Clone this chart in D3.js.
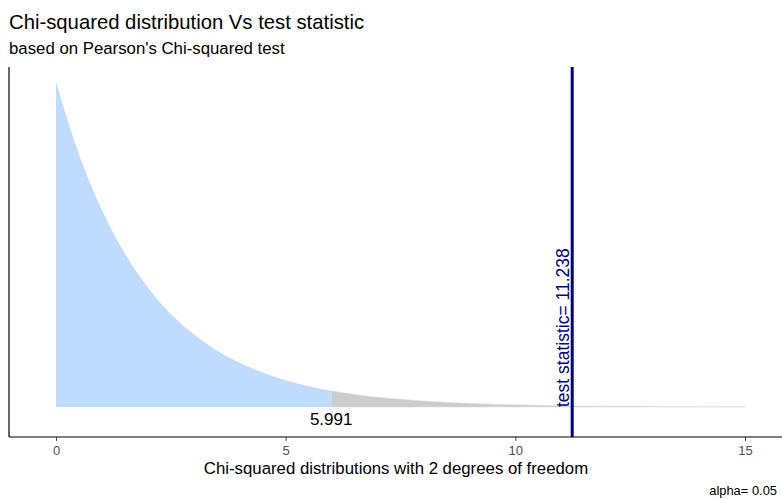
<!DOCTYPE html>
<html>
<head>
<meta charset="utf-8">
<script src="https://cdn.jsdelivr.net/npm/d3@7"></script>
<style>
  body { margin: 0; background: #fff; }
  text { font-family: "Liberation Sans", Arial, sans-serif; }
</style>
</head>
<body>
<div id="chart-area"></div>
<script>
// chi-squared density (df = 2)
let xValues = [0, 0.5, 1, 1.5, 2, 2.5, 3, 3.5, 4, 4.5, 5, 5.5, 5.991,
    6.5, 7, 7.5, 8, 8.5, 9, 9.5, 10, 10.5, 11, 11.5, 12, 12.5, 13, 13.5, 14, 14.5, 15];
let densityValues = [0.5, 0.389, 0.303, 0.236, 0.184, 0.143, 0.112, 0.087, 0.068, 0.053, 0.041, 0.032, 0.025,
    0.0194, 0.0151, 0.0118, 0.0092, 0.0071, 0.0056, 0.0043, 0.0034, 0.0026, 0.002, 0.0016, 0.0012, 0.001, 0.0008, 0.0006, 0.0005, 0.0004, 0.0003];
let xTicks = [0, 5, 10, 15];
let criticalValue = 5.991;
let testStatistic = 11.238;

let points = xValues.map(function (x, i) {
    return {x: x, y: densityValues[i]};
});

let width = 782,
    height = 499;
let margin = {top: 67, right: 0, left: 9, bottom: 62};

let svg = d3.select("#chart-area")
    .append("svg")
    .attr("width", width)
    .attr("height", height);

let x = d3.scaleLinear()
    .domain([0, 15])
    .range([56, 745]);

let y = d3.scaleLinear()
    .domain([0, 0.5])
    .range([407, 82]);

let area = d3.area()
    .x(function (d) { return x(d.x); })
    .y0(y(0))
    .y1(function (d) { return y(d.y); })
    .curve(d3.curveMonotoneX);

// acceptance region
svg.append("path")
    .datum(points.filter(function (d) { return d.x <= criticalValue; }))
    .attr("fill", "#bfdbfe")
    .attr("d", area);

// rejection region
svg.append("path")
    .datum(points.filter(function (d) { return d.x >= criticalValue; }))
    .attr("fill", "#cccccc")
    .attr("stroke", "#dddddd")
    .attr("stroke-width", 0.6)
    .attr("d", area);

// critical value label
svg.append("text")
    .attr("x", x(criticalValue))
    .attr("y", 425)
    .attr("text-anchor", "middle")
    .attr("font-size", 17)
    .attr("fill", "#000")
    .text(criticalValue.toFixed(3));

// test statistic line
svg.append("line")
    .attr("x1", x(testStatistic))
    .attr("x2", x(testStatistic))
    .attr("y1", margin.top)
    .attr("y2", height - margin.bottom)
    .attr("stroke", "#000080")
    .attr("stroke-width", 3);

svg.append("text")
    .attr("transform", "translate(" + (x(testStatistic) - 3) + "," + y(0) + ") rotate(-90)")
    .attr("font-size", 17.5)
    .attr("fill", "#000080")
    .text("test statistic= " + testStatistic);

// axes
svg.append("line")
    .attr("x1", margin.left)
    .attr("x2", margin.left)
    .attr("y1", margin.top)
    .attr("y2", height - margin.bottom)
    .attr("stroke", "#000")
    .attr("stroke-width", 1.2);

let xAxis = d3.axisBottom(x)
    .tickValues(xTicks)
    .tickSize(4)
    .tickPadding(5);

let gx = svg.append("g")
    .attr("class", "x-axis axis")
    .attr("transform", "translate(0," + (height - margin.bottom) + ")")
    .call(xAxis);

gx.select(".domain").remove();
gx.selectAll(".tick line").attr("stroke", "#4d4d4d");
gx.selectAll(".tick text")
    .attr("fill", "#4d4d4d")
    .attr("font-size", 13)
    .attr("font-family", "Liberation Sans, Arial, sans-serif");

gx.append("line")
    .attr("x1", margin.left)
    .attr("x2", width)
    .attr("stroke", "#000")
    .attr("stroke-width", 1.2);

// titles
svg.append("text")
    .attr("x", 396)
    .attr("y", 474)
    .attr("text-anchor", "middle")
    .attr("font-size", 16.8)
    .attr("fill", "#000")
    .text("Chi-squared distributions with 2 degrees of freedom");

svg.append("text")
    .attr("x", 9)
    .attr("y", 29)
    .attr("font-size", 20.3)
    .attr("fill", "#000")
    .text("Chi-squared distribution Vs test statistic");

svg.append("text")
    .attr("x", 9)
    .attr("y", 54)
    .attr("font-size", 16.8)
    .attr("fill", "#000")
    .text("based on Pearson's Chi-squared test");

svg.append("text")
    .attr("x", 777)
    .attr("y", 495)
    .attr("text-anchor", "end")
    .attr("font-size", 12.9)
    .attr("fill", "#000")
    .text("alpha= 0.05");
</script>
</body>
</html>
